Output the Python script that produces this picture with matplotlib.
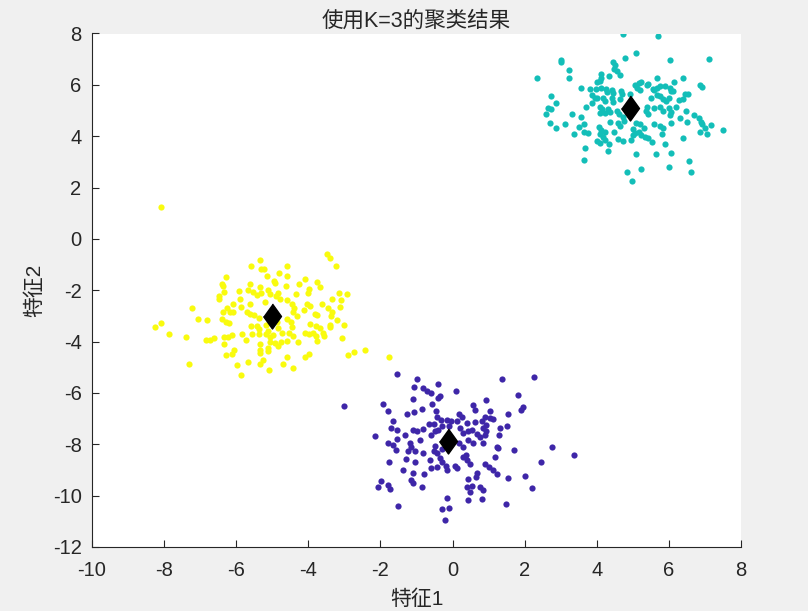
import matplotlib
matplotlib.use("Agg")
import matplotlib.pyplot as plt
import numpy as np

plt.rcParams['font.family'] = ['Liberation Sans', 'Noto Sans CJK SC', 'DejaVu Sans']
plt.rcParams['axes.unicode_minus'] = False

# cluster 1 (yellow)
yellow_x = [-8.10, -3.48, -3.40, -3.24, -5.35, -5.58, -5.31, -5.23, -4.58, -5.14, -4.82, -4.58, -6.29,
            -6.40, -6.36, -4.96, -4.93, -5.62, -5.35, -4.63, -4.26, -4.09, -3.76, -3.67, -3.97, -4.00,
            -4.33, -5.92, -6.34, -6.47, -6.48, -5.67, -5.53, -5.43, -5.30, -5.12, -5.05, -4.91, -4.85,
            -6.09, -5.90, -5.61, -5.21, -4.79, -4.60, -4.46, -4.05, -3.94, -3.62, -3.33, -3.15, -2.93,
            -3.09, -3.11, -7.23, -6.25, -6.38, -6.17, -6.08, -5.86, -5.71, -5.62, -5.52, -5.38, -4.13,
            -4.39, -4.43, -4.31, -3.82, -3.75, -3.46, -3.35, -3.38, -3.20, -7.06, -6.80, -6.39, -6.28,
            -6.19, -8.08, -8.26, -5.59, -5.41, -5.36, -5.17, -5.13, -4.88, -4.85, -4.60, -4.49, -4.45,
            -3.96, -3.80, -3.68, -3.40, -3.41, -3.00, -7.86, -7.38, -6.83, -6.72, -6.61, -6.34, -6.24,
            -6.12, -5.84, -5.74, -5.57, -5.36, -5.18, -5.05, -4.97, -4.74, -4.53, -4.42, -4.10, -3.99,
            -3.86, -3.79, -3.60, -3.56, -3.76, -3.08, -6.34, -5.34, -5.06, -4.93, -4.75, -4.60, -4.28,
            -5.35, -5.34, -5.12, -5.12, -4.85, -6.07, -6.12, -6.29, -5.99, -5.68, -5.34, -5.25, -5.09,
            -4.59, -4.71, -4.43, -4.10, -3.99, -5.86, -7.30, -2.90, -2.74, -2.43, -1.76]
yellow_y = [1.24, -0.58, -0.75, -1.04, -0.83, -1.04, -1.19, -1.19, -1.06, -1.43, -1.34, -1.45, -1.48,
            -1.74, -1.82, -1.64, -1.73, -1.74, -1.89, -1.82, -1.74, -1.58, -1.69, -1.89, -1.95, -2.10,
            -2.15, -2.04, -2.08, -2.21, -2.36, -1.99, -2.05, -2.18, -2.09, -2.00, -2.15, -2.21, -2.10,
            -2.53, -2.34, -2.54, -2.44, -2.36, -2.37, -2.54, -2.52, -2.60, -2.52, -2.34, -2.12, -2.13,
            -2.39, -2.65, -2.71, -2.70, -2.86, -2.83, -2.86, -2.65, -2.86, -2.93, -2.96, -3.09, -2.75,
            -2.70, -2.86, -3.02, -2.91, -2.96, -2.70, -2.83, -2.99, -3.17, -3.13, -3.17, -3.12, -3.22,
            -3.27, -3.27, -3.45, -3.39, -3.41, -3.50, -3.35, -3.58, -3.25, -3.48, -3.12, -3.22, -3.43,
            -3.32, -3.41, -3.48, -3.35, -3.45, -3.35, -3.69, -3.84, -3.95, -3.92, -3.87, -3.84, -3.83,
            -3.74, -3.70, -3.95, -3.70, -3.71, -3.71, -3.84, -3.74, -3.67, -3.67, -3.79, -3.65, -3.69,
            -3.66, -3.80, -3.67, -3.79, -3.97, -3.87, -4.10, -4.09, -4.00, -4.06, -4.01, -3.96, -4.00,
            -4.32, -4.44, -4.26, -4.36, -4.19, -4.32, -4.47, -4.53, -4.92, -4.78, -4.86, -4.73, -5.10,
            -4.61, -4.87, -5.02, -4.61, -4.49, -5.32, -4.89, -4.53, -4.41, -4.32, -4.60]

# cluster 2 (teal)
teal_x = [4.72, 5.70, 5.08, 3.00, 3.02, 4.46, 4.51, 4.79, 6.02, 7.12, 3.24, 3.23, 2.34, 4.48, 4.57,
          4.64, 4.12, 4.12, 4.33, 5.67, 6.39, 6.13, 4.02, 4.09, 5.16, 5.23, 5.38, 5.43, 5.06, 5.12,
          5.20, 3.57, 3.81, 3.99, 4.13, 4.25, 4.29, 4.43, 4.46, 4.68, 4.70, 4.91, 5.55, 5.60, 5.68,
          5.75, 5.88, 6.03, 6.06, 6.12, 6.86, 6.93, 2.73, 2.88, 3.87, 3.94, 4.01, 4.18, 4.24, 4.43,
          4.46, 4.64, 5.51, 5.66, 5.75, 5.84, 5.91, 6.01, 6.46, 6.54, 6.38, 6.29, 2.66, 2.74, 2.58,
          3.32, 3.55, 3.69, 3.87, 4.09, 4.14, 4.09, 4.23, 4.32, 4.37, 4.55, 4.62, 4.72, 5.38, 5.37,
          5.41, 5.60, 5.75, 5.84, 6.00, 6.07, 6.21, 6.03, 6.47, 6.32, 6.49, 6.69, 6.84, 6.89, 2.70,
          2.86, 3.13, 3.51, 3.65, 3.37, 3.64, 3.75, 4.05, 4.12, 4.09, 4.22, 4.36, 4.60, 4.64, 4.75,
          5.09, 5.21, 5.01, 5.17, 5.31, 5.59, 5.75, 5.83, 6.06, 6.93, 7.01, 7.17, 6.86, 7.06, 7.51,
          4.16, 4.24, 4.00, 4.09, 4.35, 4.49, 4.60, 4.73, 4.95, 5.01, 5.06, 5.23, 5.34, 5.41, 5.53,
          5.82, 5.88, 6.40, 3.66, 4.31, 3.64, 5.10, 5.64, 6.06, 6.55, 4.85, 4.99, 5.24, 5.99, 6.60]
teal_y = [7.99, 7.89, 7.24, 6.95, 6.90, 6.90, 6.79, 7.03, 6.97, 7.00, 6.56, 6.27, 6.26, 6.60, 6.53,
          6.40, 6.43, 6.27, 6.36, 6.27, 6.27, 6.12, 6.12, 6.14, 6.08, 6.10, 6.01, 6.04, 6.01, 5.86,
          5.78, 5.87, 5.82, 5.82, 5.86, 5.85, 5.73, 5.78, 5.69, 5.75, 5.66, 5.66, 5.85, 5.79, 5.88,
          5.95, 5.97, 5.88, 5.75, 5.75, 6.01, 5.91, 5.55, 5.29, 5.62, 5.49, 5.49, 5.47, 5.37, 5.47,
          5.34, 5.43, 5.49, 5.62, 5.56, 5.46, 5.39, 5.49, 5.65, 5.65, 5.44, 5.42, 5.08, 5.04, 4.85,
          4.87, 4.74, 5.14, 5.29, 5.14, 5.04, 4.91, 4.91, 5.04, 4.96, 5.00, 4.87, 4.74, 5.14, 5.00,
          4.87, 5.10, 5.13, 5.00, 5.10, 4.95, 5.14, 4.82, 5.00, 4.72, 4.56, 4.82, 4.69, 4.56, 4.51,
          4.30, 4.48, 4.35, 4.46, 4.07, 4.18, 4.12, 4.36, 4.26, 4.09, 4.16, 4.56, 4.52, 4.40, 4.59,
          4.52, 4.46, 4.27, 4.17, 4.30, 4.47, 4.40, 4.30, 4.53, 4.46, 4.33, 4.43, 4.17, 4.07, 4.26,
          3.96, 3.87, 3.83, 3.74, 3.70, 4.18, 3.90, 3.83, 3.87, 4.03, 4.13, 4.04, 3.96, 3.94, 3.78,
          4.09, 3.70, 3.94, 3.53, 3.43, 3.09, 3.29, 3.29, 3.34, 3.03, 2.62, 2.25, 2.73, 2.79, 2.61]

# cluster 3 (dark blue)
blue_x = [-1.55, -1.00, -1.07, -0.81, -0.72, -0.61, -0.41, -0.35, -0.40, 0.09, -1.09, -0.57, -1.94,
          -1.80, -1.06, -1.26, -0.86, -0.46, -0.44, -0.32, -0.15, -0.03, 0.18, 0.25, 0.11, 0.57, 0.63,
          0.94, 1.03, 0.41, 0.62, 0.81, 0.91, 1.05, 1.13, 1.36, 2.26, 1.82, 1.94, 1.90, 1.55, -1.66,
          -1.71, -1.53, -1.32, -2.15, -1.09, -1.00, -0.82, -0.65, -0.52, -0.48, -0.61, -0.40, -0.28,
          -0.11, 0.20, 0.30, 0.42, 0.53, 0.67, 0.85, 0.93, 0.90, 0.94, 1.31, 1.29, 1.50, -1.80, -1.64,
          -1.57, -1.55, -1.18, -1.16, -1.23, -0.90, -1.04, -0.81, -0.49, -0.52, -0.44, -0.30, 0.19,
          0.30, 0.44, 0.57, 0.76, 0.85, 1.22, 1.27, 1.18, 1.70, 2.77, -1.75, -1.30, -1.05, -0.63, -0.59,
          -0.44, -0.35, -0.30, -0.17, -0.15, 0.07, 0.11, 0.30, 0.36, 0.41, 0.48, 0.90, 1.02, 1.11, 1.24,
          1.53, 2.02, 2.45, -1.37, -1.09, -0.78, -1.99, -2.06, -1.78, -1.74, -1.14, -1.09, -0.86, 0.44,
          0.67, 0.64, 0.39, 0.53, 0.48, 0.76, 0.85, 2.21, -0.16, -0.30, -0.09, 0.44, 0.82, 1.48, -1.50,
          -0.22, -3.01, 3.37]
blue_y = [-5.27, -5.45, -5.75, -5.79, -5.92, -6.01, -5.66, -6.11, -6.18, -5.91, -6.24, -6.44, -6.43,
          -6.70, -6.76, -6.81, -6.61, -6.70, -6.94, -7.05, -7.05, -7.11, -6.81, -6.92, -7.09, -6.46,
          -6.66, -6.27, -6.70, -7.18, -7.15, -7.09, -6.92, -6.96, -7.02, -5.46, -5.36, -6.07, -6.53,
          -6.66, -6.81, -7.09, -7.37, -7.44, -7.63, -7.67, -7.44, -7.50, -7.41, -7.20, -7.22, -7.50,
          -7.65, -7.44, -7.28, -7.28, -7.37, -7.57, -7.50, -7.44, -7.59, -7.37, -7.50, -7.63, -7.24,
          -7.37, -7.63, -7.28, -7.93, -8.02, -8.24, -7.80, -7.93, -8.11, -8.28, -7.83, -8.28, -8.35,
          -8.06, -8.28, -8.35, -8.19, -7.93, -8.11, -7.83, -7.93, -7.70, -7.96, -8.09, -8.15, -8.48,
          -8.24, -8.09, -8.67, -8.58, -8.68, -8.61, -8.91, -8.89, -8.54, -8.67, -8.84, -9.00, -8.84,
          -8.94, -8.48, -8.40, -8.61, -8.76, -8.78, -8.89, -9.00, -9.15, -9.30, -9.23, -8.69, -9.00,
          -9.13, -9.15, -9.41, -9.68, -9.58, -9.75, -9.39, -9.49, -9.68, -9.36, -9.13, -9.26, -9.65,
          -9.62, -9.84, -9.68, -9.78, -9.70, -10.10, -10.52, -10.49, -10.17, -10.14, -10.32, -10.42,
          -10.94, -6.50, -8.42]

# centroids
center_x = [-5.00, 4.93, -0.13]
center_y = [-3.01, 5.08, -7.89]

fig = plt.figure(figsize=(8.08, 6.11), dpi=100, facecolor='#F0F0F0')
ax = fig.add_axes([92 / 808, 1 - 547 / 611, 649 / 808, 513.5 / 611])

ax.scatter(yellow_x, yellow_y, s=20, c='#F9FB0E', linewidths=0, zorder=2)
ax.scatter(teal_x, teal_y, s=20, c='#13BEB8', linewidths=0, zorder=2)
ax.scatter(blue_x, blue_y, s=20, c='#3E26A8', linewidths=0, zorder=2)

diamond = [(0, 1), (0.72, 0), (0, -1), (-0.72, 0)]
ax.plot(center_x, center_y, linestyle='none', marker=diamond, markersize=18,
        color='black', zorder=3)

ax.set_xlim(-10, 8)
ax.set_ylim(-12, 8)
ax.set_xticks(np.arange(-10, 9, 2))
ax.set_yticks(np.arange(-12, 9, 2))

for side in ['top', 'right']:
    ax.spines[side].set_visible(False)
for side in ['left', 'bottom']:
    ax.spines[side].set_color('#262626')
    ax.spines[side].set_linewidth(0.8)
ax.tick_params(direction='in', length=5, width=0.8, colors='#262626', labelsize=14.5)
ax.tick_params(axis='x', pad=10)
ax.tick_params(axis='y', pad=7.5)

ax.set_title('使用K=3的聚类结果', fontsize=15.5, color='#262626', pad=5)
ax.set_xlabel('特征1', fontsize=15, color='#262626', labelpad=7)
ax.set_ylabel('特征2', fontsize=15, color='#262626', labelpad=6)

fig.savefig('out.png', dpi=100, facecolor=fig.get_facecolor())
